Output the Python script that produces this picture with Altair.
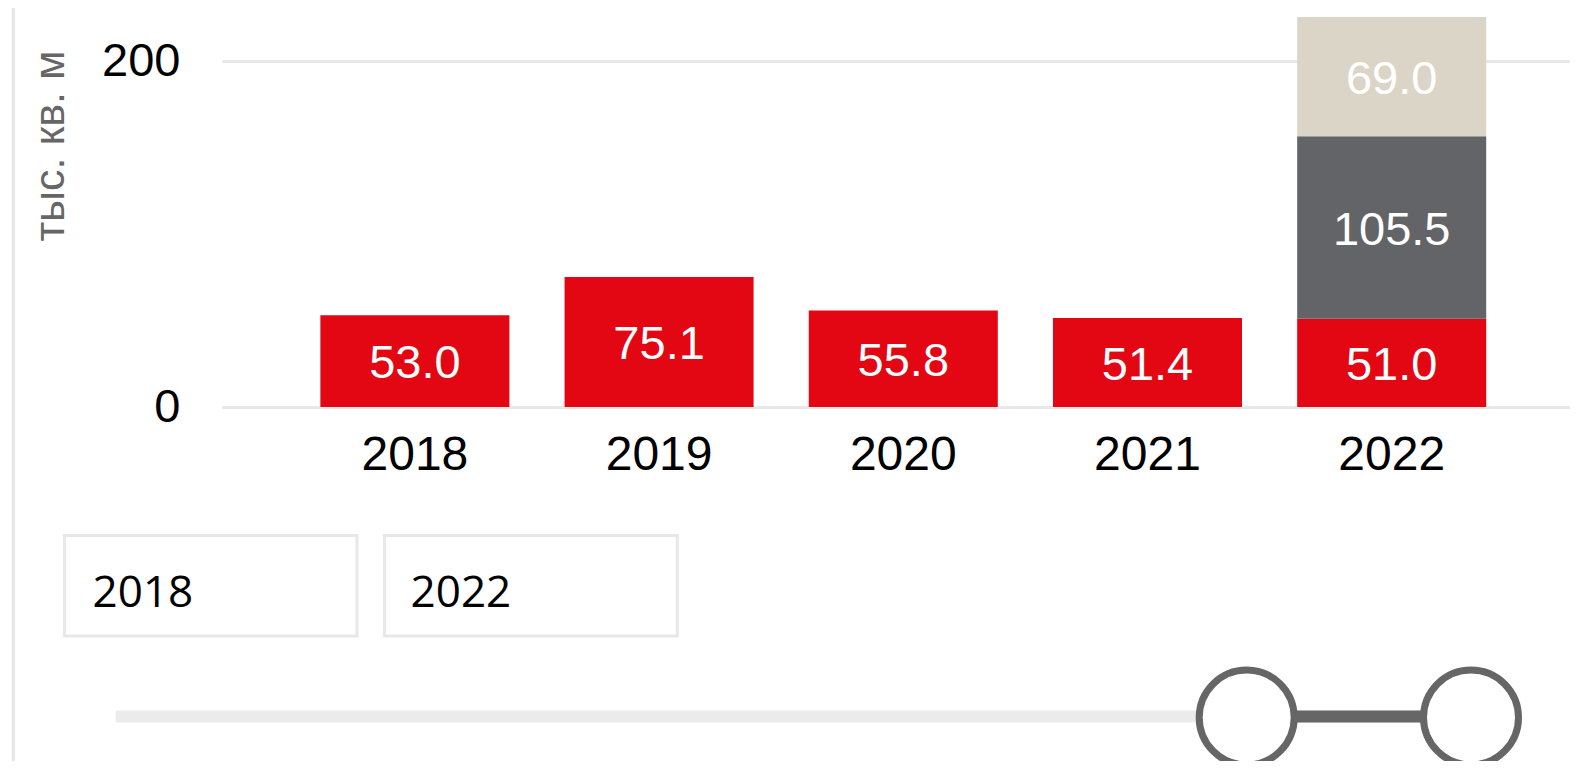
import altair as alt
import pandas as pd

years = ["2018", "2019", "2020", "2021", "2022"]
series_red = [53.0, 75.1, 55.8, 51.4, 51.0]
series_gray = [0, 0, 0, 0, 105.5]
series_beige = [0, 0, 0, 0, 69.0]
series_names = ["Серия 1", "Серия 2", "Серия 3"]
series_colors = ["#e30613", "#636467", "#dbd5c7"]
y_ticks = [0, 200]
y_title = "тыс. кв. м"
range_inputs = ["2018", "2022"]

rows = []
for i, y in enumerate(years):
    for k, vals in enumerate([series_red, series_gray, series_beige]):
        if vals[i] > 0:
            rows.append({"year": y, "series": series_names[k], "order": k, "value": vals[i]})
df = pd.DataFrame(rows)

FONT = "Liberation Sans"

base = alt.Chart(df).transform_stack(
    stack="value", groupby=["year"], as_=["y0", "y1"], sort=[alt.SortField("order", "ascending")]
).transform_calculate(mid="(datum.y0 + datum.y1) / 2")

xenc = alt.X(
    "year:N",
    sort=years,
    scale=alt.Scale(paddingInner=0.226, paddingOuter=0.373, align=0.54),
    axis=alt.Axis(
        title=None, ticks=False, domain=False, labelAngle=0, labelFontSize=48,
        labelColor="#000000", labelFont=FONT, labelPadding=24, grid=False,
    ),
)

bars = base.mark_bar().encode(
    x=xenc,
    y=alt.Y(
        "y0:Q",
        scale=alt.Scale(domain=[0, 200], nice=False, zero=True),
        axis=alt.Axis(
            values=y_ticks, ticks=False, domain=False, labelFontSize=47,
            labelColor="#000000", labelFont=FONT, labelPadding=42,
            grid=True, gridColor="#e8e8e8", gridWidth=3,
            title=y_title, titleFontSize=43, titleFont=FONT, titleColor="#666666",
            titleFontWeight="normal", titleAngle=270, titleAlign="right",
            titleBaseline="middle", titleX=-172, titleY=-11,
        ),
    ),
    y2="y1:Q",
    color=alt.Color("series:N", scale=alt.Scale(domain=series_names, range=series_colors), legend=None),
)

labels = base.mark_text(color="white", fontSize=47, font=FONT, baseline="middle", dy=3).encode(
    x=alt.X("year:N", sort=years),
    y=alt.Y("mid:Q"),
    text=alt.Text("value:Q", format=".1f"),
)

one = pd.DataFrame({"k": [0]})

left_border = alt.Chart(one).mark_rule(color="#e6e6e6", strokeWidth=3).encode(
    x=alt.value(-208.7), y=alt.value(-60), y2=alt.value(720)
)

box1 = alt.Chart(one).mark_rect(fill="white", stroke="#e8e8e8", strokeWidth=3).encode(
    x=alt.value(-157.6), x2=alt.value(135), y=alt.value(474.4), y2=alt.value(575)
)
box2 = alt.Chart(one).mark_rect(fill="white", stroke="#e8e8e8", strokeWidth=3).encode(
    x=alt.value(162.4), x2=alt.value(455.3), y=alt.value(474.4), y2=alt.value(575)
)
txt1 = alt.Chart(one).mark_text(text=range_inputs[0], align="left", baseline="alphabetic",
                                fontSize=44, font="Open Sans", color="#000000").encode(
    x=alt.value(-129.4), y=alt.value(546)
)
txt2 = alt.Chart(one).mark_text(text=range_inputs[1], align="left", baseline="alphabetic",
                                fontSize=44, font="Open Sans", color="#000000").encode(
    x=alt.value(188.6), y=alt.value(546)
)

track = alt.Chart(one).mark_rule(color="#ebebeb", strokeWidth=12).encode(
    x=alt.value(-106.3), x2=alt.value(1290), y=alt.value(655.5)
)
active = alt.Chart(one).mark_rule(color="#666666", strokeWidth=12).encode(
    x=alt.value(1024.7), x2=alt.value(1249), y=alt.value(655.5)
)
h1 = alt.Chart(one).mark_circle(fill="white", stroke="#666666", strokeWidth=7, size=9025, opacity=1).encode(
    x=alt.value(1024.7), y=alt.value(656.5)
)
h2 = alt.Chart(one).mark_circle(fill="white", stroke="#666666", strokeWidth=7, size=9025, opacity=1).encode(
    x=alt.value(1249), y=alt.value(656.5)
)

chart = alt.layer(
    left_border, bars, labels, box1, box2, txt1, txt2, track, active, h1, h2
).properties(
    width=1348, height=346,
    background="white",
    autosize=alt.AutoSizeParams(type="none"),
    padding={"left": 214, "top": 53, "right": 0, "bottom": 354},
).configure_view(strokeWidth=0)

chart.save("out.html", embed_options={"renderer": "svg", "actions": False})
